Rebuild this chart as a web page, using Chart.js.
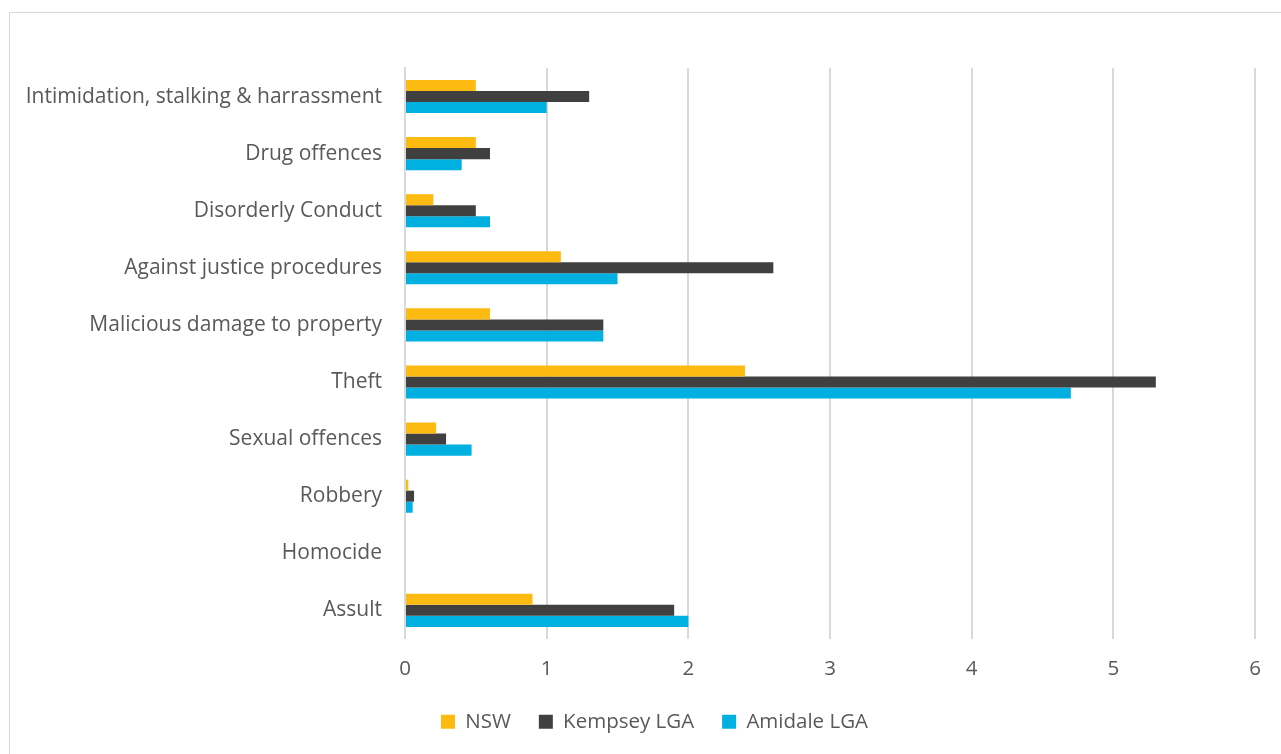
<!DOCTYPE html>
<html>
<head>
<meta charset="utf-8">
<script src="https://cdn.jsdelivr.net/npm/chart.js@4/dist/chart.umd.min.js"></script>
<style>
  html, body { margin: 0; padding: 0; background: #fff; }
  #frame {
    position: absolute; left: 9px; top: 12px;
    width: 1290px; height: 760px;
    border: 1px solid #d9d9d9;
  }
  #wrap { position: absolute; left: 0; top: 0; width: 1281px; height: 754px; }
</style>
</head>
<body>
<div id="frame"></div>
<div id="wrap"><canvas id="chart"></canvas></div>
<script>
/* global Chart */

// Offence categories, top to bottom as drawn
const categories = [
  'Intimidation, stalking & harrassment',
  'Drug offences',
  'Disorderly Conduct',
  'Against justice procedures',
  'Malicious damage to property',
  'Theft',
  'Sexual offences',
  'Robbery',
  'Homocide',
  'Assult',
];

const nswValues      = [0.5, 0.5, 0.2, 1.1, 0.6, 2.4, 0.22, 0.023, 0, 0.9];
const kempseyValues  = [1.3, 0.6, 0.5, 2.6, 1.4, 5.3, 0.29, 0.064, 0, 1.9];
const amidaleValues  = [1.0, 0.4, 0.6, 1.5, 1.4, 4.7, 0.47, 0.054, 0, 2.0];

const xTicks = [0, 1, 2, 3, 4, 5, 6];

const COLORS = {
  nsw: '#fdbb11',
  kempsey: '#404040',
  amidale: '#00b0e0',
  text: '#595959',
  grid: '#d9d9d9',
};

const FONT = '"Open Sans", Lato, sans-serif';

// the original legend sits a little right of the canvas centre
const legendShift = {
  id: 'legendShift',
  afterLayout(chart) {
    if (!chart.legend) return;
    chart.legend.left += 27;
    chart.legend.right += 27;
  },
};

const ctx = document.getElementById('chart').getContext('2d');

new Chart(ctx, {
  type: 'bar',
  data: {
    labels: categories,
    datasets: [
      { label: 'NSW', data: nswValues, backgroundColor: COLORS.nsw },
      { label: 'Kempsey LGA', data: kempseyValues, backgroundColor: COLORS.kempsey },
      { label: 'Amidale LGA', data: amidaleValues, backgroundColor: COLORS.amidale },
    ],
  },
  plugins: [legendShift],
  options: {
    indexAxis: 'y',
    responsive: true,
    maintainAspectRatio: false,
    animation: false,
    datasets: { bar: { categoryPercentage: 0.58, barPercentage: 1.0 } },
    layout: { padding: { top: 68, right: 26, bottom: 12, left: 0 } },
    plugins: {
      tooltip: { enabled: false },
      legend: {
        position: 'bottom',
        labels: {
          color: COLORS.text,
          font: { family: FONT, size: 20.5 },
          boxWidth: 14,
          boxHeight: 14,
          padding: 28,
        },
      },
    },
    scales: {
      x: {
        min: 0,
        max: 6,
        afterBuildTicks: (scale) => { scale.ticks = xTicks.map(v => ({ value: v })); },
        // legend padding is large for item spacing; let labels sit in its empty top
        afterFit: (scale) => { scale.height -= 16; },
        grid: { color: COLORS.grid, lineWidth: 2, drawTicks: false },
        border: { display: false },
        ticks: { color: COLORS.text, font: { family: FONT, size: 20.5 }, padding: 18 },
      },
      y: {
        afterFit: (scale) => { scale.width = 405; },
        grid: { display: false, drawTicks: false },
        border: { display: true, color: COLORS.grid, width: 2 },
        ticks: { color: COLORS.text, font: { family: FONT, size: 21 }, padding: 23 },
      },
    },
  },
});
</script>
</body>
</html>
